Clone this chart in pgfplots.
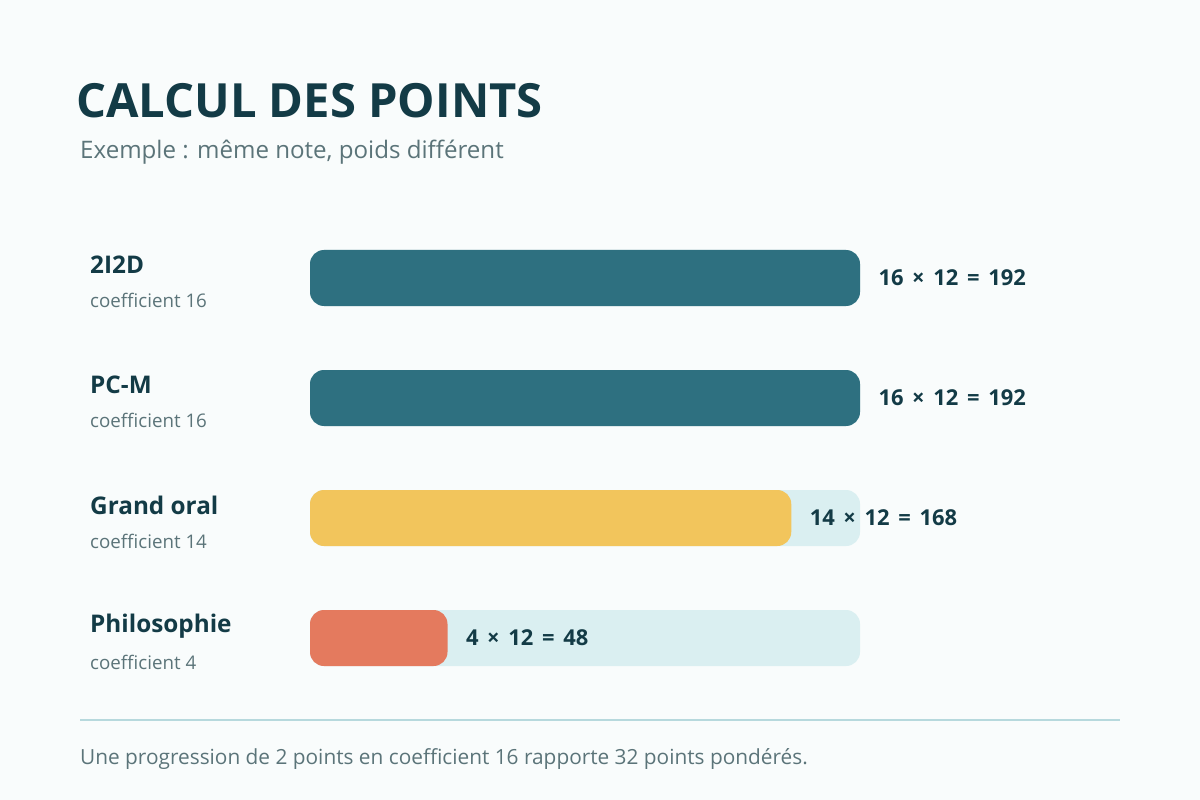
\documentclass[border=0pt]{standalone}
\usepackage{pgfplots}
\pgfplotsset{compat=1.18}
\usepackage{fontspec}
\setmainfont{Open Sans}
\definecolor{bg}{HTML}{F9FCFC}
\definecolor{titlec}{HTML}{133B46}
\definecolor{subc}{HTML}{5B7479}
\definecolor{tealbar}{HTML}{2E7080}
\definecolor{yellowbar}{HTML}{F2C55C}
\definecolor{orangebar}{HTML}{E47A5E}
\definecolor{track}{HTML}{DAEFF1}
\definecolor{linec}{HTML}{B7D9DD}
\newcommand\namefont{\fontsize{24.4}{24.4}\selectfont\bfseries\color{titlec}}
\newcommand\coeffont{\fontsize{18.8}{18.8}\selectfont\color{subc}}
\newcommand\xsp{\hspace{8.7bp}}
\begin{document}
\begin{tikzpicture}
\fill[bg] (0,0) rectangle (1200bp,800bp);
\node[anchor=base west, inner sep=0pt, text=titlec, font=\fontsize{47.3}{47.3}\selectfont\bfseries] at (76bp,682bp) {CALCUL DES POINTS};
\node[anchor=base west, inner sep=0pt, text=subc, font=\fontsize{24.2}{24.2}\selectfont] at (80bp,641bp) {Exemple : même note, poids différent};
\draw[linec, line width=2.5bp] (80bp,80bp) -- (1120bp,80bp);
\node[anchor=base west, inner sep=0pt, text=subc, font=\fontsize{20.9}{20.9}\selectfont] at (80bp,36bp) {Une progression de 2 points en coefficient 16 rapporte 32 points pondérés.};
\begin{axis}[
  at={(310bp,102bp)}, anchor=south west,
  scale only axis, width=550bp, height=480bp,
  xmin=0, xmax=16, ymin=-0.5, ymax=3.5,
  y dir=reverse,
  axis line style={draw=none},
  major tick length=0pt,
  xticklabels={},
  ytick={0,1,2,3},
  yticklabels={
    {{\namefont 2I2D}\\[16bp]{\coeffont coefficient 16}},
    {{\namefont PC-M}\\[16bp]{\coeffont coefficient 16}},
    {{\namefont Grand oral}\\[16bp]{\coeffont coefficient 14}},
    {{\namefont Philosophie}\\[16bp]{\coeffont coefficient 4}}},
  yticklabel style={anchor=west, align=left, xshift=-220bp, yshift=-4bp, inner sep=0pt, font=\fontsize{18}{18}\selectfont},
  clip=false,
]
\addplot[xbar, bar width=56bp, bar shift=0pt, fill=track, draw=none, rounded corners=14bp]
  coordinates {(16,0) (16,1) (16,2) (16,3)};
\addplot[xbar, bar width=56bp, bar shift=0pt, draw=none, rounded corners=14bp,
  fill=tealbar,
  nodes near coords, point meta=explicit symbolic,
  every node near coord/.append style={anchor=west, xshift=15bp, text=titlec, font=\fontsize{22}{22}\selectfont\bfseries}]
  coordinates {(16,0) [16\xsp×\xsp12\xsp=\xsp192] (16,1) [16\xsp×\xsp12\xsp=\xsp192]};
\addplot[xbar, bar width=56bp, bar shift=0pt, draw=none, rounded corners=14bp,
  fill=yellowbar,
  nodes near coords, point meta=explicit symbolic,
  every node near coord/.append style={anchor=west, xshift=15bp, text=titlec, font=\fontsize{22}{22}\selectfont\bfseries}]
  coordinates {(14,2) [14\xsp×\xsp12\xsp=\xsp168]};
\addplot[xbar, bar width=56bp, bar shift=0pt, draw=none, rounded corners=14bp,
  fill=orangebar,
  nodes near coords, point meta=explicit symbolic,
  every node near coord/.append style={anchor=west, xshift=15bp, text=titlec, font=\fontsize{22}{22}\selectfont\bfseries}]
  coordinates {(4,3) [4\xsp×\xsp12\xsp=\xsp48]};
\end{axis}
\end{tikzpicture}
\end{document}
